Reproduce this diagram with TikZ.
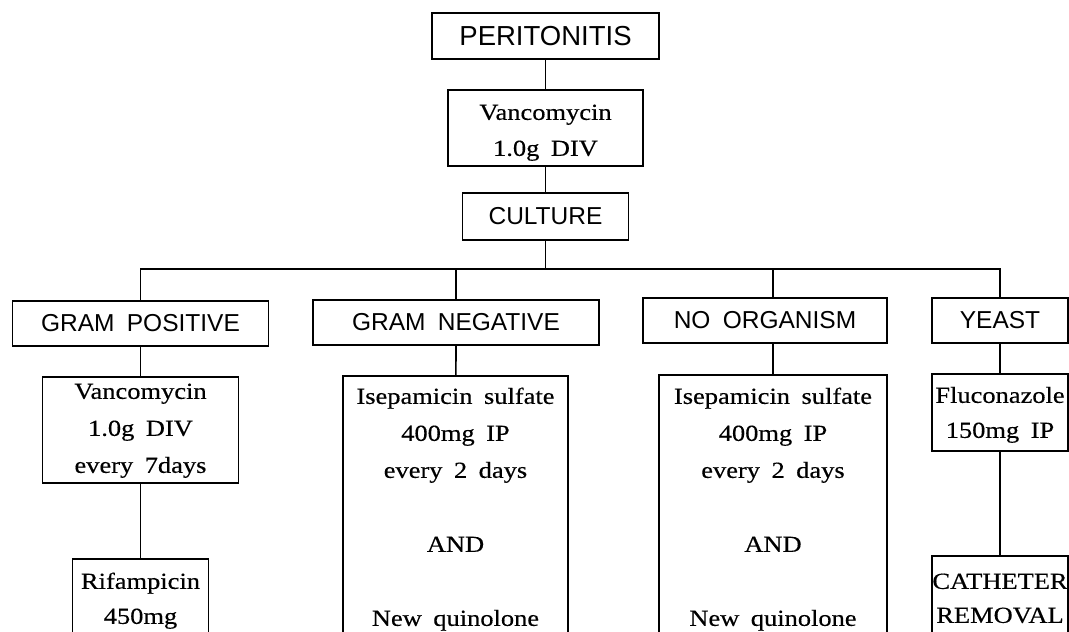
\documentclass[tikz,border=0pt]{standalone}
\usepackage{fontspec}
\setmainfont{Liberation Serif}[FakeStretch=1.15,FakeBold=0.4]
\setsansfont{Liberation Sans}
\newcommand{\gap}{\hspace{0.5em}}
\newcommand{\tp}[1]{\rule{0pt}{#1}}
\newcommand{\bt}[1]{\rule[-#1]{0pt}{#1}}
\tikzset{
  box/.style={draw, line width=1.7pt, inner sep=0pt, align=center},
  lab/.style={box, font=\sffamily\fontsize{24.5}{28}\selectfont, minimum height=45pt},
  drug/.style={box, anchor=north, font=\rmfamily\fontsize{23}{37}\selectfont},
  conn/.style={line width=1.7pt},
}
\begin{document}
\begin{tikzpicture}[x=1pt,y=-1pt]
\useasboundingbox (0,0) rectangle (1069,632);
\clip (0,0) rectangle (1069,632);
% top chain
\node[lab, font=\sffamily\fontsize{27.5}{31}\selectfont, minimum width=227pt, minimum height=46pt] (peri) at (545.5,36) {PERITONITIS};
\node[drug, text width=195pt, font=\rmfamily\fontsize{23}{36}\selectfont] (vanc) at (545.5,89) {\tp{30pt}Vancomycin\\1.0g\gap DIV\bt{10pt}};
\node[lab, minimum width=166pt, minimum height=47pt] (cult) at (545.5,216.5) {CULTURE};
% categories
\node[lab, minimum width=256pt] (gpos) at (140.5,323.5) {GRAM\gap POSITIVE};
\node[lab, minimum width=286pt] (gneg) at (456,322.5) {GRAM\gap NEGATIVE};
\node[lab, minimum width=244pt] (noorg) at (765,320.5) {NO\gap ORGANISM};
\node[lab, minimum width=136pt] (yeast) at (1000,320.5) {YEAST};
% treatments
\node[drug, text width=196pt] (gpvanc) at (140.5,376) {\tp{22pt}Vancomycin\\1.0g\gap DIV\\every\gap 7days\bt{10pt}};
\node[drug, text width=136pt, font=\rmfamily\fontsize{23}{35}\selectfont] (rif) at (140.5,558) {\tp{30pt}Rifampicin\\450mg\bt{20pt}};
\node[drug, text width=225pt] (gnegtx) at (455.5,375) {\tp{28pt}Isepamicin\gap sulfate\\400mg\gap IP\\every\gap 2\gap days\\[37pt]AND\\[37pt]New\gap quinolone\bt{20pt}};
\node[drug, text width=228pt] (noorgtx) at (773,374) {\tp{29pt}Isepamicin\gap sulfate\\400mg\gap IP\\every\gap 2\gap days\\[37pt]AND\\[37pt]New\gap quinolone\bt{20pt}};
\node[drug, text width=136pt, font=\rmfamily\fontsize{23}{35}\selectfont] (fluc) at (1000,373) {\tp{29pt}Fluconazole\\150mg\gap IP\bt{13pt}};
\node[drug, text width=136pt, font=\rmfamily\fontsize{23}{34}\selectfont] (cath) at (1000,555) {\tp{33pt}CATHETER\\REMOVAL\bt{20pt}};
\coordinate (bar) at (545.5,269);
% connectors
\draw[conn] (peri) -- (vanc);
\draw[conn] (vanc) -- (cult);
\draw[conn] (cult.south) -- (bar);
\draw[conn] (gpos.north) -- (gpos.north |- bar) -- (yeast.north |- bar) -- (yeast.north);
\draw[conn] (gneg.north |- bar) -- (gneg.north);
\draw[conn] (noorgtx.north |- bar) -- (noorgtx.north |- noorg.north);
\draw[conn] (gpos) -- (gpvanc);
\draw[conn] (gpvanc) -- (rif);
\draw[conn] (gneg) -- (gnegtx);
\draw[conn] (noorgtx.north |- noorg.south) -- (noorgtx.north);
\draw[conn] (yeast) -- (fluc);
\draw[conn] (fluc) -- (cath);
\end{tikzpicture}
\end{document}
